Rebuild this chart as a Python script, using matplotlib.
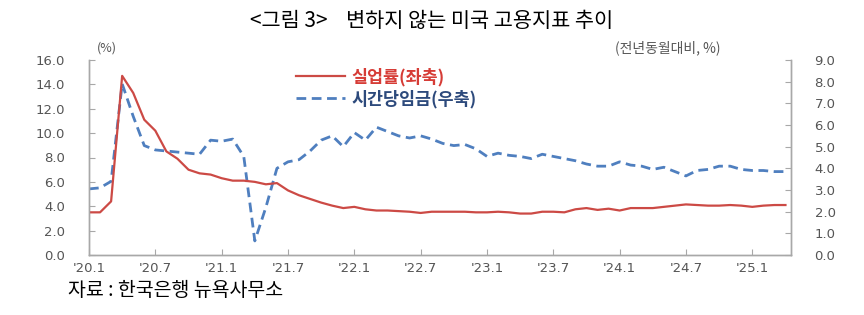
import matplotlib.pyplot as plt

# 한글 폰트
plt.rcParams['font.family'] = ['Noto Sans CJK KR', 'DejaVu Sans']

# 월별 데이터 (2020.1 ~ 2025.4), 그림에서 읽은 값
unemployment = [3.5, 3.5, 4.4, 14.7, 13.3, 11.1, 10.2, 8.5, 7.9, 7.0, 6.7, 6.6,
                6.3, 6.1, 6.1, 6.0, 5.8, 5.9, 5.3, 4.9, 4.6, 4.3, 4.05, 3.85,
                3.95, 3.75, 3.65, 3.65, 3.6, 3.55, 3.45, 3.55, 3.55, 3.55, 3.55, 3.5,
                3.5, 3.55, 3.5, 3.4, 3.4, 3.55, 3.55, 3.5, 3.75, 3.85, 3.7, 3.8,
                3.65, 3.85, 3.85, 3.85, 3.95, 4.05, 4.15, 4.1, 4.05, 4.05, 4.1, 4.05,
                3.95, 4.05, 4.1, 4.1]
wage_growth = [3.05, 3.1, 3.4, 7.9, 6.4, 5.05, 4.85, 4.8, 4.75, 4.7, 4.65, 5.3,
               5.25, 5.35, 4.55, 0.65, 2.2, 4.0, 4.3, 4.4, 4.8, 5.3, 5.5, 5.0,
               5.65, 5.3, 5.9, 5.7, 5.5, 5.4, 5.5, 5.35, 5.15, 5.05, 5.1, 4.9,
               4.55, 4.7, 4.6, 4.55, 4.45, 4.65, 4.55, 4.45, 4.35, 4.2, 4.1, 4.1,
               4.3, 4.15, 4.1, 3.95, 4.05, 3.85, 3.65, 3.9, 3.95, 4.1, 4.1, 3.95,
               3.9, 3.9, 3.85, 3.85]
tick_labels = ["'20.1", "'20.7", "'21.1", "'21.7", "'22.1", "'22.7",
               "'23.1", "'23.7", "'24.1", "'24.7", "'25.1"]

x = list(range(len(unemployment)))
tick_pos = list(range(0, 6 * len(tick_labels), 6))

red = '#cc4a45'
blue = '#4f7fbf'
grey = '#555555'
spine_grey = '#a8a8a8'
num_font = {'family': 'DejaVu Sans', 'size': 9.5}

fig = plt.figure(figsize=(8.64, 3.15), dpi=100)
ax = fig.add_axes([0.103, 0.1905, 0.8125, 0.619])
ax2 = ax.twinx()

# 실업률은 왼쪽 축, 시간당임금은 오른쪽 축
line_blue, = ax2.plot(x, wage_growth, color=blue, lw=2.0, dashes=(3.5, 2.0))
line_red, = ax.plot(x, unemployment, color=red, lw=1.6)
ax.set_zorder(ax2.get_zorder() + 1)
ax.patch.set_visible(False)

ax.set_xlim(0, 63.5)
ax.set_ylim(0, 16)
ax2.set_ylim(0, 9)
ax.set_yticks(range(0, 17, 2))
ax2.set_yticks(range(0, 10))
ax.set_yticklabels([f'{v:.1f}' for v in range(0, 17, 2)], fontdict=num_font)
ax2.set_yticklabels([f'{v:.1f}' for v in range(0, 10)], fontdict=num_font)
ax.set_xticks(tick_pos)
ax.set_xticklabels(tick_labels, fontdict=num_font)

for a in (ax, ax2):
    a.spines['top'].set_visible(False)
    for s in ('left', 'right', 'bottom'):
        a.spines[s].set_color(spine_grey)
        a.spines[s].set_linewidth(1.0)
ax.tick_params(axis='y', direction='in', length=4, color=spine_grey,
               labelcolor=grey, pad=17)
ax2.tick_params(axis='y', direction='in', length=4, color=spine_grey,
                labelcolor=grey, pad=17)
ax.tick_params(axis='x', direction='in', length=4, color=spine_grey,
               labelcolor=grey, pad=5)

# 범례
leg = ax.legend([line_red, line_blue], ['실업률(좌축)', '시간당임금(우축)'],
                loc='upper left', bbox_to_anchor=(0.295, 0.96), frameon=False,
                handlelength=2.8, handletextpad=0.4, labelspacing=0.2,
                borderaxespad=0, borderpad=0,
                prop={'weight': 'bold', 'size': 12.5})
for t, c in zip(leg.get_texts(), ['#d63c36', '#2d4a7c']):
    t.set_color(c)

# 단위 표시
fig.text(107 / 864, 1 - 48 / 315, '(%)', ha='center', va='center',
         fontsize=9, color=grey)
fig.text(668 / 864, 1 - 48 / 315, '(전년동월대비, %)', ha='center', va='center',
         fontsize=10, color=grey)

# 제목 및 출처
fig.text(0.5, 1 - 21 / 315, '<그림 3>    변하지 않는 미국 고용지표 추이',
         ha='center', va='center', fontsize=15, fontweight='medium')
fig.text(68 / 864, 1 - 291 / 315, '자료 : 한국은행 뉴욕사무소',
         ha='left', va='center', fontsize=14)

fig.savefig('out.png', dpi=100)
